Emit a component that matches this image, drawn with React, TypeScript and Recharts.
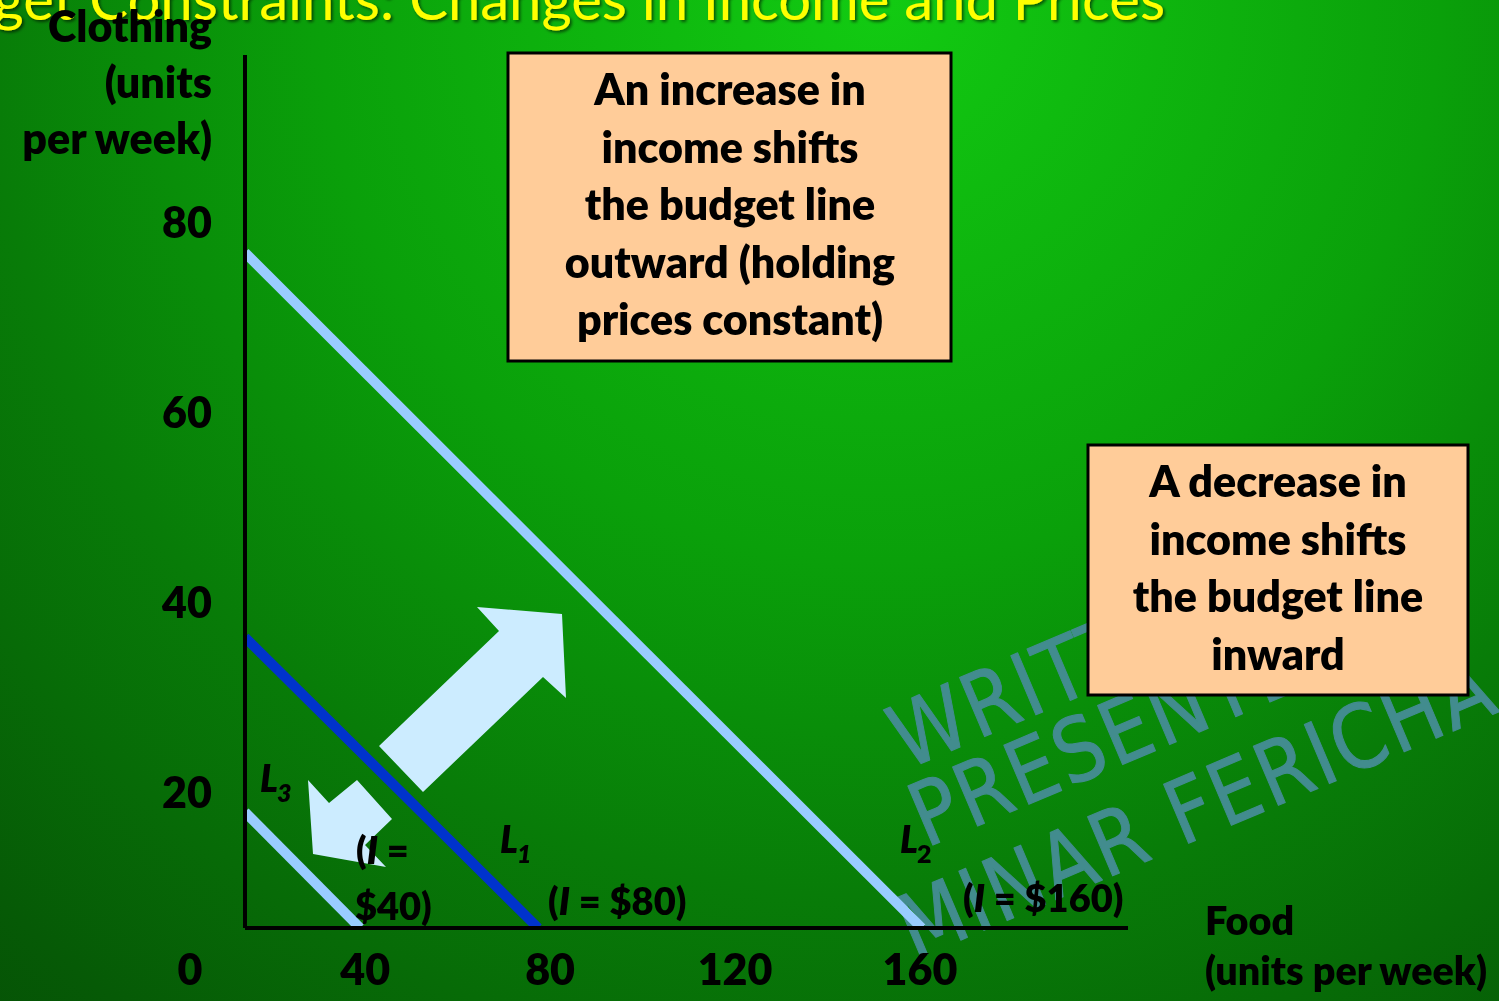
import React from "react";
import { LineChart, Line, XAxis, YAxis } from "recharts";

// axis ticks
const xTicks = [40, 80, 120, 160];
const yTicks = [20, 40, 60, 80];

// budget lines (food, clothing)
const lineL3 = [
  { food: 14, clothing: 18.0 },
  { food: 38.9, clothing: 5.8 },
];
const lineL1 = [
  { food: 14, clothing: 36.4 },
  { food: 77.4, clothing: 5.8 },
];
const lineL2 = [
  { food: 14, clothing: 76.9 },
  { food: 160.4, clothing: 5.8 },
];

const boxIncrease = ["An increase in", "income shifts", "the budget line", "outward (holding", "prices constant)"];
const boxDecrease = ["A decrease in", "income shifts", "the budget line", "inward"];
const yTitle = ["Clothing", "(units", "per week)"];
const xTitle = ["Food", "(units per week)"];
const watermark = ["WRITTEN AND", "PRESENTED BY", "MINAR FERICHA"];

const FONT = "Lato, 'Open Sans', sans-serif";
const txt = { fontFamily: FONT, fontWeight: 800, fontSize: 43, fill: "#000" } as const;

const XTick = ({ x, y, payload }: any) => (
  <text x={x} y={y + 57} textAnchor="middle" style={txt}>
    {payload.value}
  </text>
);

const YTick = ({ x, y, payload }: any) => (
  <text x={x} y={y + 15} textAnchor="end" style={txt}>
    {payload.value}
  </text>
);

function Income({ x, y, value }: { x: number; y: number; value: string }) {
  return (
    <text x={x} y={y} style={{ ...txt, fontSize: 38 }}>
      (<tspan fontStyle="italic">I</tspan> = {value})
    </text>
  );
}

function LLabel({ x, y, sub }: { x: number; y: number; sub: string }) {
  return (
    <g>
      <text x={x} y={y} style={{ ...txt, fontSize: 37, fontStyle: "italic" }}>L</text>
      <text x={x + 17} y={y + 10} style={{ ...txt, fontSize: 25, fontStyle: sub === "2" ? "normal" : "italic" }}>{sub}</text>
    </g>
  );
}

export default function App() {
  return (
    <div
      style={{
        position: "fixed",
        left: 0,
        top: 0,
        width: 1499,
        height: 1001,
        overflow: "hidden",
        background:
          "radial-gradient(circle 1400px at 880px 0px, #12cb12 0%, #0aa00a 40%, #087c08 64%, #065a06 90%, #055005 100%)",
      }}
    >
      {/* watermark */}
      <svg width={1499} height={1001} style={{ position: "absolute", left: 0, top: 0 }}>
        <g
          style={{
            fontFamily: "'DejaVu Sans', sans-serif",
            fontSize: 80,
            letterSpacing: 3,
            fill: "#428c8e",
            stroke: "#428c8e",
            strokeWidth: 1,
            strokeLinejoin: "round",
          }}
        >
          <text transform="translate(906 770) rotate(-23) scale(0.95 1.1)">{watermark[0]}</text>
          <text transform="translate(926 848) rotate(-23) scale(0.95 1.1)">{watermark[1]}</text>
          <text transform="translate(914 960) rotate(-23) scale(0.95 1.1)">{watermark[2]}</text>
        </g>
      </svg>

      <div style={{ position: "absolute", left: 0, top: 0 }}>
        <LineChart width={1499} height={1001} margin={{ top: 55, right: 371, bottom: 33, left: 185 }}>
          <XAxis
            type="number"
            dataKey="food"
            domain={[14, 205]}
            ticks={xTicks}
            allowDataOverflow
            height={40}
            tickSize={0}
            tickMargin={0}
            tickLine={false}
            axisLine={{ stroke: "#000", strokeWidth: 4 }}
            tick={<XTick />}
          />
          <YAxis
            type="number"
            dataKey="clothing"
            domain={[5.8, 97.7]}
            ticks={yTicks}
            allowDataOverflow
            width={60}
            tickSize={0}
            tickMargin={33}
            tickLine={false}
            axisLine={{ stroke: "#000", strokeWidth: 4 }}
            tick={<YTick />}
          />
          <Line data={lineL3} dataKey="clothing" stroke="#99ccff" strokeWidth={10} dot={false} isAnimationActive={false} />
          <Line data={lineL1} dataKey="clothing" stroke="#0033cc" strokeWidth={10} dot={false} isAnimationActive={false} />
          <Line data={lineL2} dataKey="clothing" stroke="#99ccff" strokeWidth={10} dot={false} isAnimationActive={false} />
        </LineChart>
      </div>

      <svg width={1499} height={1001} style={{ position: "absolute", left: 0, top: 0 }}>
        <defs>
          <filter id="shadow" x="-5%" y="-50%" width="110%" height="200%">
            <feDropShadow dx="2" dy="2" stdDeviation="1.5" floodColor="#000" floodOpacity="0.55" />
          </filter>
        </defs>

        {/* slide title, mostly cut off at the top */}
        <text x={1165} y={20} textAnchor="end" filter="url(#shadow)" style={{ fontFamily: FONT, fontSize: 58, fill: "#ffff00" }}>
          Budget Constraints: Changes in Income and Prices
        </text>

        {/* axis titles */}
        {yTitle.map((t, i) => (
          <text key={t} x={212} y={42 + i * 56} textAnchor="end" style={txt}>{t}</text>
        ))}
        {xTitle.map((t, i) => (
          <text key={t} x={1205} y={935 + i * 50} style={{ ...txt, fontSize: 39.5 }}>{t}</text>
        ))}
        <text x={190} y={985} textAnchor="middle" style={txt}>0</text>

        {/* shift arrows */}
        <polygon points="379,746 499,631 477,607 562,614 566,698 543,677 423,792" fill="#ccecff" />
        <polygon points="308,780 329,803 357,780 392,819 365,845 386,867 313,854" fill="#ccecff" />

        {/* line labels */}
        <LLabel x={260} y={792} sub="3" />
        <LLabel x={500} y={853} sub="1" />
        <LLabel x={900} y={853} sub="2" />
        <text x={356} y={864} style={{ ...txt, fontSize: 38 }}>
          (<tspan fontStyle="italic">I</tspan> =
        </text>
        <text x={355} y={920} style={{ ...txt, fontSize: 38 }}>$40)</text>
        <Income x={548} y={915} value="$80" />
        <Income x={963} y={912} value="$160" />

        {/* explanation boxes */}
        <rect x={508} y={53} width={443} height={308} fill="#ffcc99" stroke="#000" strokeWidth={3} />
        {boxIncrease.map((t, i) => (
          <text key={t} x={730} y={105 + i * 57.5} textAnchor="middle" style={txt}>{t}</text>
        ))}
        <rect x={1088} y={445} width={380} height={250} fill="#ffcc99" stroke="#000" strokeWidth={3} />
        {boxDecrease.map((t, i) => (
          <text key={t} x={1278} y={497 + i * 57.7} textAnchor="middle" style={txt}>{t}</text>
        ))}
      </svg>
    </div>
  );
}
